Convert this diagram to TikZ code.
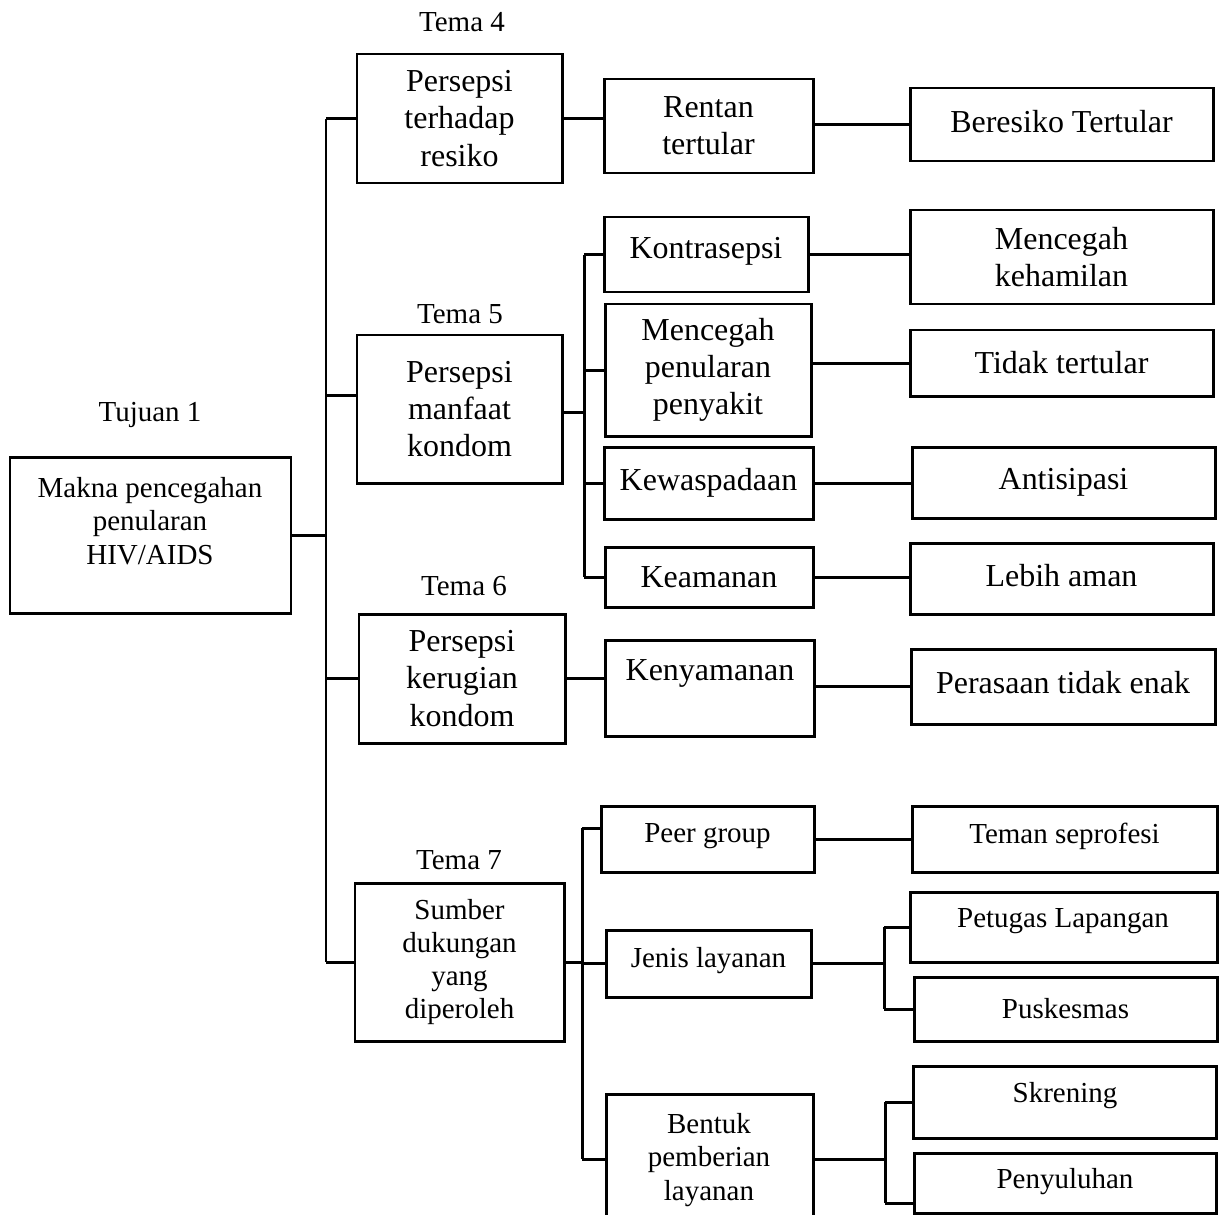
\documentclass[tikz,border=0pt]{standalone}
\usepackage{fontspec}
\setmainfont{Liberation Serif}
\tikzset{
  bigtxt/.style={font=\fontsize{18.2}{21.1}\selectfont, align=center},
  smalltxt/.style={font=\fontsize{16.5}{18.9}\selectfont, align=center},
  sz/.style 2 args={minimum width=#1*0.02cm, minimum height=#2*0.02cm},
  bx/.style={draw, line width=1.7pt, inner sep=0pt, bigtxt},
  bxs/.style={draw, line width=1.7pt, inner sep=0pt, smalltxt},
  plain/.style={inner sep=0pt, smalltxt},
  link/.style={line width=1.7pt}
}
\begin{document}
\begin{tikzpicture}[x=0.02cm, y=-0.02cm]
\useasboundingbox (0,0) rectangle (1220,1214);

% root and theme labels
\node[bxs, sz={281}{156}] (mk) at (150.5,535) {};
\node[plain] (mkt) at (150,521) {Makna pencegahan\\penularan\\HIV/AIDS};
\node[plain] (lt1) at (150,415) {Tujuan 1};
\node[plain] (l4) at (462,22) {Tema 4};
\node[plain] (l5) at (460,314) {Tema 5};
\node[plain] (l6) at (464,586) {Tema 6};
\node[plain] (l7) at (459,860) {Tema 7};

% themes
\node[bx, sz={205}{129}] (t4) at (459.5,118.5) {Persepsi\\terhadap\\resiko};
\node[bx, sz={205}{148}] (t5) at (459.5,409) {Persepsi\\manfaat\\kondom};
\node[bx, sz={206}{129}] (t6) at (462,678.5) {Persepsi\\kerugian\\kondom};
\node[bxs, sz={209}{158}] (t7) at (459.5,962) {Sumber\\dukungan\\yang\\diperoleh};

% sub-themes
\node[bx, sz={209}{94}] (rn) at (708.5,126) {Rentan\\tertular};
\node[bx, sz={204}{75}] (ko) at (706,254.5) {};
\node[inner sep=0pt, bigtxt] (kot) at (706,251) {Kontrasepsi};
\node[bx, sz={206}{132}] (mp) at (708,370) {Mencegah\\penularan\\penyakit};
\node[bx, sz={209}{72}] (kw) at (708.5,483) {Kewaspadaan};
\node[bx, sz={208}{60}] (ka) at (709,577) {Keamanan};
\node[bx, sz={209}{96}] (ky) at (709.5,688) {};
\node[inner sep=0pt, bigtxt] (kyt) at (710,673) {Kenyamanan};
\node[bxs, sz={213}{66}] (pg) at (707.5,839) {};
\node[plain] (pgt) at (707.5,836) {Peer group};
\node[bxs, sz={205}{67}] (jl) at (708.5,963.5) {};
\node[plain] (jlt) at (708.5,961) {Jenis layanan};
\node[bxs, sz={207}{130}] (bp) at (709.5,1159) {};
\node[plain] (bpt) at (709,1160) {Bentuk\\pemberian\\layanan};

% categories
\node[bx, sz={303}{73}] (br) at (1061.5,124.5) {};
\node[inner sep=0pt, bigtxt] (brt) at (1061.5,122) {Beresiko Tertular};
\node[bx, sz={303}{94}] (mh) at (1061.5,257) {Mencegah\\kehamilan};
\node[bx, sz={303}{66}] (tt) at (1061.5,363) {Tidak tertular};
\node[bx, sz={303}{71}] (an) at (1063.5,482.5) {Antisipasi};
\node[bx, sz={303}{71}] (la) at (1061.5,578.5) {};
\node[inner sep=0pt, bigtxt] (lat) at (1061.5,576) {Lebih aman};
\node[bx, sz={304}{75}] (pt) at (1063,686.5) {};
\node[inner sep=0pt, bigtxt] (ptt) at (1063,683) {Perasaan tidak enak};
\node[bxs, sz={305}{66}] (ts) at (1064.5,839) {};
\node[plain] (tst) at (1064.5,836) {Teman seprofesi};
\node[bxs, sz={307}{70}] (pl) at (1063.5,927) {};
\node[plain] (plt) at (1063,921) {Petugas Lapangan};
\node[bxs, sz={303}{64}] (pu) at (1065.5,1009) {Puskesmas};
\node[bxs, sz={303}{72}] (sk) at (1064.5,1102) {};
\node[plain] (skt) at (1065,1096) {Skrening};
\node[bxs, sz={302}{60}] (pe) at (1065,1183) {};
\node[plain] (pet) at (1065,1182) {Penyuluhan};

% branch rails
\coordinate (tr) at (326,0);
\coordinate (b5) at (584,0);
\coordinate (b7) at (582,0);
\coordinate (s1) at (884,0);
\coordinate (s2) at (885,0);
\coordinate (t5in) at ([yshift=0.28cm]t5.west);
\coordinate (t5out) at ([yshift=-0.06cm]t5.east);
\coordinate (pgin) at ([yshift=0.22cm]pg.west);
\coordinate (pein) at ([yshift=-0.4cm]pe.west);

% root to themes
\draw[link] (mk.east) -- (mk.east -| tr);
\draw[link] (t4.west -| tr) -- (t7.west -| tr);
\draw[link] (t4.west -| tr) -- (t4.west);
\draw[link] (t5in -| tr) -- (t5in);
\draw[link] (t6.west -| tr) -- (t6.west);
\draw[link] (t7.west -| tr) -- (t7.west);

% Tema 4
\draw[link] (t4.east) -- (t4.east -| rn.west);
\draw[link] (br.west -| rn.east) -- (br.west);

% Tema 5
\draw[link] (t5out) -- (t5out -| b5);
\draw[link] (ko.west -| b5) -- (ka.west -| b5);
\draw[link] (ko.west -| b5) -- (ko.west);
\draw[link] (mp.west -| b5) -- (mp.west);
\draw[link] (kw.west -| b5) -- (kw.west);
\draw[link] (ka.west -| b5) -- (ka.west);
\draw[link] (ko.east) -- (ko.east -| mh.west);
\draw[link] (tt.west -| mp.east) -- (tt.west);
\draw[link] (kw.east) -- (kw.east -| an.west);
\draw[link] (ka.east) -- (ka.east -| la.west);

% Tema 6
\draw[link] (t6.east) -- (t6.east -| ky.west);
\draw[link] (pt.west -| ky.east) -- (pt.west);

% Tema 7
\draw[link] (t7.east) -- (t7.east -| b7);
\draw[link] (pgin -| b7) -- (bp.west -| b7);
\draw[link] (pgin -| b7) -- (pgin);
\draw[link] (jl.west -| b7) -- (jl.west);
\draw[link] (bp.west -| b7) -- (bp.west);
\draw[link] (pg.east) -- (pg.east -| ts.west);
\draw[link] (jl.east) -- (jl.east -| s1);
\draw[link] (pl.west -| s1) -- (pu.west -| s1);
\draw[link] (pl.west -| s1) -- (pl.west);
\draw[link] (pu.west -| s1) -- (pu.west);
\draw[link] (bp.east) -- (bp.east -| s2);
\draw[link] (sk.west -| s2) -- (pein -| s2);
\draw[link] (sk.west -| s2) -- (sk.west);
\draw[link] (pein -| s2) -- (pein);
\end{tikzpicture}
\end{document}
